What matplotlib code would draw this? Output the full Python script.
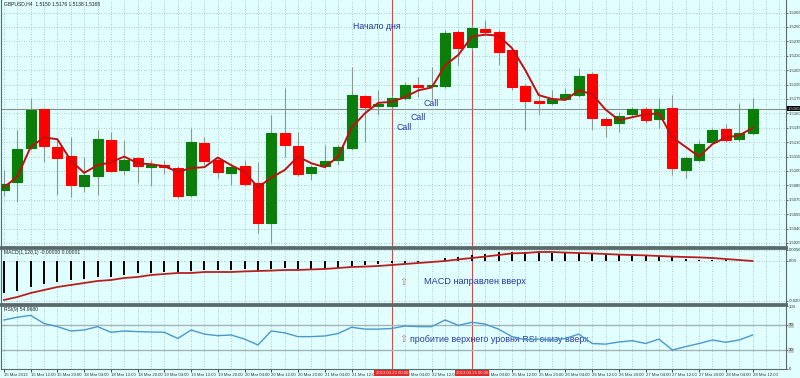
import numpy as np
import matplotlib.pyplot as plt
import matplotlib.transforms as mtransforms

plt.rcParams['font.family'] = ['Liberation Sans', 'DejaVu Sans']

# GBPUSD H4 candles
opens = [1.5080, 1.5089, 1.5124, 1.5165, 1.5125, 1.5116, 1.5084, 1.5095, 1.5132, 1.5101,
         1.5113, 1.5104, 1.5106, 1.5103, 1.5075, 1.5129, 1.5111, 1.5098, 1.5105, 1.5087,
         1.5046, 1.5140, 1.5126, 1.5098, 1.5105, 1.5111, 1.5124, 1.5178, 1.5168, 1.5168,
         1.5176, 1.5190, 1.5189, 1.5189, 1.5245, 1.5229, 1.5248, 1.5245, 1.5226, 1.5189,
         1.5173, 1.5171, 1.5175, 1.5179, 1.5201, 1.5154, 1.5150, 1.5159, 1.5165, 1.5154,
         1.5166, 1.5101, 1.5111, 1.5130, 1.5144, 1.5133, 1.5140]
highs = [1.5101, 1.5143, 1.5176, 1.5166, 1.5134, 1.5135, 1.5115, 1.5143, 1.5141, 1.5132,
         1.5115, 1.5111, 1.5111, 1.5105, 1.5145, 1.5135, 1.5114, 1.5108, 1.5111, 1.5109,
         1.5158, 1.5186, 1.5141, 1.5106, 1.5127, 1.5127, 1.5208, 1.5179, 1.5184, 1.5179,
         1.5193, 1.5198, 1.5208, 1.5247, 1.5247, 1.5252, 1.5257, 1.5247, 1.5228, 1.5191,
         1.5182, 1.5184, 1.5186, 1.5207, 1.5203, 1.5156, 1.5161, 1.5167, 1.5167, 1.5176,
         1.5179, 1.5116, 1.5132, 1.5145, 1.5149, 1.5171, 1.5176]
lows = [1.5074, 1.5068, 1.5122, 1.5109, 1.5075, 1.5073, 1.5078, 1.5075, 1.5099, 1.5096,
        1.5087, 1.5084, 1.5097, 1.5072, 1.5073, 1.5106, 1.5093, 1.5085, 1.5084, 1.5035,
        1.5025, 1.5115, 1.5095, 1.5091, 1.5103, 1.5106, 1.5122, 1.5130, 1.5158, 1.5166,
        1.5174, 1.5177, 1.5174, 1.5186, 1.5210, 1.5226, 1.5243, 1.5210, 1.5184, 1.5143,
        1.5158, 1.5169, 1.5174, 1.5177, 1.5143, 1.5135, 1.5141, 1.5157, 1.5150, 1.5145,
        1.5096, 1.5093, 1.5109, 1.5128, 1.5130, 1.5131, 1.5137]
closes = [1.5086, 1.5123, 1.5163, 1.5126, 1.5113, 1.5085, 1.5096, 1.5133, 1.5100, 1.5111,
          1.5105, 1.5106, 1.5104, 1.5074, 1.5130, 1.5110, 1.5099, 1.5104, 1.5086, 1.5046,
          1.5140, 1.5127, 1.5097, 1.5104, 1.5110, 1.5125, 1.5179, 1.5167, 1.5170, 1.5176,
          1.5190, 1.5187, 1.5190, 1.5244, 1.5228, 1.5249, 1.5245, 1.5224, 1.5187, 1.5173,
          1.5171, 1.5175, 1.5180, 1.5199, 1.5155, 1.5148, 1.5157, 1.5165, 1.5153, 1.5165,
          1.5103, 1.5114, 1.5128, 1.5143, 1.5132, 1.5140, 1.5165]
ma = [1.5083, 1.5094, 1.5125, 1.5135, 1.5133, 1.5111, 1.5098, 1.5106, 1.5109, 1.5115,
      1.5108, 1.5107, 1.5105, 1.5099, 1.5103, 1.5104, 1.5114, 1.5106, 1.5099, 1.5083,
      1.5093, 1.5101, 1.5115, 1.5108, 1.5104, 1.5115, 1.5145, 1.5160, 1.5171, 1.5172,
      1.5177, 1.5184, 1.5187, 1.5210, 1.5221, 1.5240, 1.5242, 1.5241, 1.5228, 1.5205,
      1.5179, 1.5175, 1.5174, 1.5184, 1.5180, 1.5164, 1.5153, 1.5156, 1.5159, 1.5160,
      1.5135, 1.5125, 1.5115, 1.5128, 1.5135, 1.5137, 1.5145]

macd_hist = [-0.0160, -0.0150, -0.0130, -0.0115, -0.0105, -0.0095, -0.0090, -0.0080, -0.0080, -0.0070,
             -0.0060, -0.0060, -0.0055, -0.0055, -0.0050, -0.0045, -0.0045, -0.0045, -0.0040, -0.0050,
             -0.0040, -0.0035, -0.0040, -0.0045, -0.0040, -0.0035, -0.0027, -0.0022, -0.0015, -0.0012,
             -0.0010, -0.0004, -0.0002, 0.0015, 0.0022, 0.0030, 0.0037, 0.0043, 0.0045, 0.0045,
             0.0045, 0.0040, 0.0040, 0.0040, 0.0040, 0.0035, 0.0030, 0.0030, 0.0030, 0.0025,
             0.0020, 0.0010, 0.0005, 0.0003, 0.0003, 0.0001, 0.0000]
macd_signal = [-0.0195, -0.0180, -0.0160, -0.0145, -0.0130, -0.0120, -0.0110, -0.0100, -0.0095, -0.0085,
               -0.0080, -0.0070, -0.0065, -0.0060, -0.0060, -0.0055, -0.0055, -0.0055, -0.0052, -0.0050,
               -0.0048, -0.0045, -0.0045, -0.0042, -0.0040, -0.0035, -0.0030, -0.0028, -0.0025, -0.0020,
               -0.0015, -0.0010, -0.0005, 0.0000, 0.0008, 0.0015, 0.0022, 0.0030, 0.0038, 0.0040,
               0.0045, 0.0045, 0.0042, 0.0040, 0.0038, 0.0035, 0.0032, 0.0030, 0.0028, 0.0025,
               0.0022, 0.0020, 0.0018, 0.0015, 0.0010, 0.0005, 0.0000]
rsi = [77.6, 82, 85, 72, 67, 60, 61.6, 67, 58, 60,
       59, 58.4, 58, 48, 61.6, 55, 52.5, 53.6, 47, 37.6,
       60, 57, 51, 51, 52, 56, 66, 63, 63, 64,
       68, 67, 67, 77.6, 69, 74, 71, 63, 51, 46,
       47, 45.6, 48, 55, 40, 39, 42.4, 44.5, 40, 47,
       29.6, 35, 40, 45.6, 42, 45.6, 53.6]

time_labels = ["15 Mar 2013", "15 Mar 12:00", "15 Mar 20:00", "18 Mar 04:00", "18 Mar 12:00",
               "18 Mar 20:00", "19 Mar 04:00", "19 Mar 12:00", "19 Mar 20:00", "20 Mar 04:00",
               "20 Mar 12:00", "20 Mar 20:00", "21 Mar 04:00", "21 Mar 12:00", "21 Mar 20:00",
               "22 Mar 04:00", "22 Mar 12:00", "22 Mar 20:00", "25 Mar 04:00", "25 Mar 12:00",
               "25 Mar 20:00", "26 Mar 04:00", "26 Mar 12:00", "26 Mar 20:00", "27 Mar 04:00",
               "27 Mar 12:00", "27 Mar 20:00", "28 Mar 04:00", "28 Mar 12:00"]
price_ticks = [1.5025, 1.5040, 1.5055, 1.5070, 1.5085, 1.5100, 1.5115, 1.5130, 1.5145,
               1.5160, 1.5175, 1.5190, 1.5205, 1.5220, 1.5235, 1.5250, 1.5265]
day_marks = [29, 35]
day_labels = ["2013.03.22 00:00", "2013.03.25 00:00"]
last_price = 1.5165

bg = '#E1FFFF'
grid_col = '#9fb9b9'
blue = '#2a36a4'
tick_fs = 3.1

fig = plt.figure(figsize=(8, 3.78), dpi=100, facecolor=bg)
W, H = 800.0, 378.0
ax1 = fig.add_axes([1 / W, 1 - 247 / H, 785 / W, 247 / H])
ax2 = fig.add_axes([1 / W, 1 - 304 / H, 785 / W, 56 / H])
ax3 = fig.add_axes([1 / W, 1 - 369 / H, 785 / W, 64 / H])

x = np.arange(len(closes))
for ax in (ax1, ax2, ax3):
    ax.set_facecolor(bg)
    ax.set_xlim(-0.22, 58.5)
    ax.set_xticks(np.arange(0, 59))
    ax.set_xticklabels([])
    ax.tick_params(axis='x', length=0)
    ax.yaxis.tick_right()
    ax.tick_params(axis='y', labelsize=tick_fs, length=1.5, width=0.5, pad=0.5, colors='#333333')
    ax.grid(True, color=grid_col, linestyle=(0, (1, 2)), linewidth=0.6)
    ax.set_axisbelow(True)
    for s in ax.spines.values():
        s.set_color('#5a6a6a')
        s.set_linewidth(0.8)
    for d in day_marks:
        ax.axvline(d, color='#c85050', linewidth=0.8, zorder=1)

# price pane
ax1.set_ylim(1.50208, 1.52781)
ax1.set_yticks(price_ticks)
ax1.set_yticklabels(["%.4f" % p for p in price_ticks])
ax1.spines['bottom'].set_linewidth(2)
ax1.spines['top'].set_visible(False)
cols = ['#0a7d0a' if c >= o else '#ff0000' for o, c in zip(opens, closes)]
ax1.vlines(x, lows, highs, color='#8a9a92', linewidth=0.8, zorder=2)
ax1.bar(x, np.array(closes) - np.array(opens), bottom=opens, width=0.75,
        color=cols, edgecolor=cols, linewidth=0.8, zorder=3)
ax1.plot(x, ma, color='#c01010', linewidth=1.4, zorder=4)
ax1.axhline(last_price, color='#8a8a8a', linewidth=0.8, zorder=1)
ax1.text(1.002, last_price, "%.4f" % last_price, transform=ax1.get_yaxis_transform(),
         fontsize=tick_fs, color='white', va='center', ha='left', clip_on=False,
         bbox=dict(facecolor='black', edgecolor='none', pad=0.5))
ax1.text(0.004, 0.995, "GBPUSD,H4  1.5150 1.5176 1.5138 1.5165", transform=ax1.transAxes,
         fontsize=3.6, color='#222222', va='top', ha='left')
ax1.text(26.1, 1.5250, "Начало дня", fontsize=6.3, color=blue, va='center')
ax1.text(31.4, 1.5170, "Call", fontsize=6.3, color=blue, va='center')
ax1.text(30.4, 1.5156, "Call", fontsize=6.3, color=blue, va='center')
ax1.text(29.4, 1.5145, "Call", fontsize=6.3, color=blue, va='center')

# MACD pane
ax2.set_ylim(-0.0215, 0.0065)
ax2.set_yticks([0.0056, 0.0, -0.020])
ax2.set_yticklabels(["0.0056", "0.00", "-0.020"])
ax2.spines['top'].set_linewidth(2)
ax2.spines['bottom'].set_linewidth(2)
ax2.vlines(x, 0, macd_hist, color='black', linewidth=1.4, zorder=3)
ax2.plot(x, macd_signal, color='#b82020', linewidth=1.3, zorder=4)
ax2.text(0.004, 0.96, "MACD(1,120,1) -0.00000 0.00001", transform=ax2.transAxes,
         fontsize=3.6, color='#222222', va='top', ha='left')
ax2.text(29.9, -0.0105, "⇧", fontsize=7, color='#d07070', va='center', ha='center')
ax2.text(31.4, -0.0105, "MACD направлен вверх", fontsize=6.6, color=blue, va='center')

# RSI pane
ax3.set_ylim(-0.8, 101.6)
ax3.set_yticks([100, 70, 30, 0])
ax3.set_yticklabels(["100", "70", "30", "0"])
ax3.spines['top'].set_linewidth(2)
for lvl in (70, 30):
    ax3.axhline(lvl, color='#a8b4b4', linewidth=1, zorder=1)
for lab in ax3.get_yticklabels()[1:3]:
    lab.set_bbox(dict(facecolor='#c4cccc', edgecolor='none', pad=0.5))
ax3.plot(x, rsi, color='#4a98cc', linewidth=1.0, zorder=4)
ax3.text(0.004, 0.97, "RSI(9) 54.9680", transform=ax3.transAxes,
         fontsize=3.6, color='#222222', va='top', ha='left')
ax3.text(29.9, 47.2, "⇧", fontsize=7, color='#d07070', va='center', ha='center')
ax3.text(30.4, 47.2, "пробитие верхнего уровня RSI снизу вверх", fontsize=6.4,
         color=blue, va='center', zorder=3)

# time axis; labels hidden under the red day-start boxes are left blank
tick_pos = np.arange(0, 57, 2)
shown = ['' if (p + 1) in day_marks else t for p, t in zip(tick_pos, time_labels)]
ax3.set_xticks(tick_pos)
ax3.set_xticklabels(shown, fontsize=tick_fs, ha='left', color='#333333')
ax3.set_xticks(np.arange(0, 59), minor=True)
ax3.xaxis.grid(True, which='minor', color=grid_col, linestyle=(0, (1, 2)), linewidth=0.6)
ax3.tick_params(axis='x', which='major', length=2, width=0.5, pad=1)
ax3.tick_params(axis='x', which='minor', length=0)
trans = mtransforms.blended_transform_factory(ax3.transData, ax3.transAxes)
for d, lab in zip(day_marks, day_labels):
    ax3.text(d, -0.03, lab, transform=trans, fontsize=tick_fs, color='#ffdddd', ha='center', va='top',
             clip_on=False, zorder=10,
             bbox=dict(facecolor='#e02a2a', edgecolor='none', pad=0.8))

fig.savefig('out.png', dpi=100, facecolor=bg)
